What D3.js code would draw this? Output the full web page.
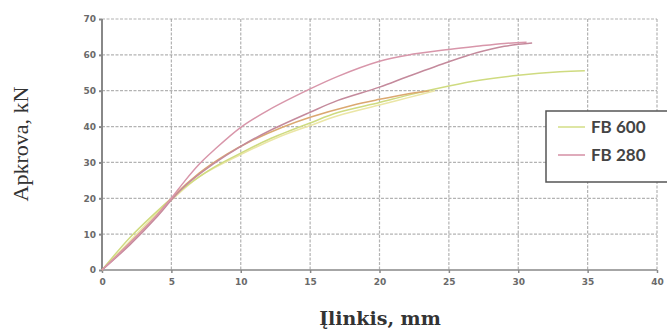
<!DOCTYPE html>
<html>
<head>
<meta charset="utf-8">
<script src="https://cdn.jsdelivr.net/npm/d3@7"></script>
<style>
  body { margin: 0; background: #fff; }
  .tick text { font-family: "DejaVu Sans", Verdana, sans-serif; font-size: 9px; fill: #6a6a6a; font-weight: bold; }
</style>
</head>
<body>
<div id="chart"></div>
<script>
// deflection (mm), load (kN)
var fb280a = [[0,0],[2,7.5],[4,15.5],[5,20],[6,25],[7,29.5],[8,33.2],[10,39.8],[12,44.6],[15,50.5],[17,54],[20,58.2],[22,59.9],[25,61.5],[27,62.4],[29,63.2],[30.6,63.5]];
var fb280b = [[0,0],[2,7],[4,15],[5,19.5],[6,23.5],[8,29.5],[10,34.5],[12,38.7],[15,44],[17,47.3],[20,51],[22,53.9],[25,58.1],[27,60.6],[29,62.4],[31,63.3]];
var fb600a = [[0,0],[2,9],[4,16.5],[5,20],[6,23.2],[8,28.5],[10,32.6],[12,36.4],[15,41],[17,43.9],[20,46.7],[22,48.7],[25,51.3],[27.2,52.9],[30,54.3],[33,55.3],[34.8,55.6]];
var fb600b = [[0,0],[2,8],[4,16],[5,19.5],[7,26],[10,32.2],[13,37.5],[15,40.3],[17,43],[20,46],[22,48],[24,50]];
var fb600c = [[0,0],[2,7.5],[4,15.5],[5,20],[7,27],[9,32.3],[10.6,35.7],[13,39.8],[15,42.6],[18,45.9],[20,47.6],[22,49.1],[23.6,50]];

var xTicks = [0, 5, 10, 15, 20, 25, 30, 35, 40];
var yTicks = [0, 10, 20, 30, 40, 50, 60, 70];
var legendNames = ["FB 600", "FB 280"];
var legendColors = ["#d6e08e", "#d896aa"];

var svgWidth = 667, svgHeight = 334;
var margin = { left: 102, right: 10, top: 19, bottom: 64 };
var width = 657 - margin.left,
    height = 270 - margin.top;

var svg = d3.select("#chart").append("svg")
  .attr("width", svgWidth)
  .attr("height", svgHeight);

var g = svg.append("g")
  .attr("transform", `translate(${margin.left}, ${margin.top})`);

var x = d3.scaleLinear().domain([0, 40]).range([0, width]);
var y = d3.scaleLinear().domain([0, 70]).range([height, 0]);

// grid
g.append("g")
  .selectAll("line.vg")
  .data(xTicks.slice(1))
  .enter().append("line")
  .attr("x1", d => x(d)).attr("x2", d => x(d))
  .attr("y1", 0).attr("y2", height)
  .attr("stroke", "#9a9a9a").attr("stroke-width", 1.2)
  .attr("stroke-dasharray", "3,1.5").attr("opacity", 0.75);

g.append("g")
  .selectAll("line.hg")
  .data(yTicks.slice(1))
  .enter().append("line")
  .attr("x1", 0).attr("x2", width)
  .attr("y1", d => y(d)).attr("y2", d => y(d))
  .attr("stroke", "#9a9a9a").attr("stroke-width", 1.2)
  .attr("stroke-dasharray", "3,1.5").attr("opacity", 0.75);

// axes
var xAxis = g.append("g")
  .attr("transform", `translate(0, ${height})`)
  .call(d3.axisBottom(x).tickValues(xTicks).tickSize(3).tickPadding(6));
var yAxis = g.append("g")
  .call(d3.axisLeft(y).tickValues(yTicks).tickSize(3).tickPadding(3));
xAxis.selectAll("path, line").attr("stroke", "#888").attr("stroke-width", 1.5);
yAxis.selectAll("path, line").attr("stroke", "#888").attr("stroke-width", 2);
xAxis.select("path").attr("d", `M0,0H${width}`);
yAxis.select("path").attr("d", `M0,${height}V0`);

// curves
var line = d3.line()
  .x(d => x(d[0]))
  .y(d => y(d[1]))
  .curve(d3.curveCatmullRom.alpha(0.5));

var curves = [
  { data: fb600b, color: "#ebe6a6" },
  { data: fb600a, color: "#cfdb80" },
  { data: fb600c, color: "#dba870" },
  { data: fb280b, color: "#c48a9c" },
  { data: fb280a, color: "#d896aa" }
];

g.selectAll("path.curve")
  .data(curves)
  .enter().append("path")
  .attr("class", "curve")
  .attr("d", d => line(d.data))
  .attr("fill", "none")
  .attr("stroke", d => d.color)
  .attr("stroke-width", 1.5);

// legend
var legend = svg.append("g").attr("transform", "translate(546, 111)");
legend.append("rect")
  .attr("width", 122).attr("height", 71)
  .attr("fill", "#fff")
  .attr("stroke", "#555").attr("stroke-width", 1.5);
legendNames.forEach(function(name, i) {
  legend.append("line")
    .attr("x1", 12).attr("x2", 39)
    .attr("y1", 16 + i * 28).attr("y2", 16 + i * 28)
    .attr("stroke", legendColors[i]).attr("stroke-width", 1.6);
  legend.append("text")
    .attr("x", 45).attr("y", 22 + i * 28)
    .attr("font-family", "Lato, 'Open Sans', sans-serif")
    .attr("font-size", "17px")
    .attr("font-weight", "bold")
    .attr("fill", "#444")
    .text(name);
});

// axis labels
svg.append("text")
  .attr("transform", "translate(28, 144) rotate(-90)")
  .attr("text-anchor", "middle")
  .attr("font-family", "'Liberation Serif', 'DejaVu Serif', serif")
  .attr("font-size", "22px")
  .attr("fill", "#333")
  .text("Apkrova, kN");

svg.append("text")
  .attr("x", 380).attr("y", 325)
  .attr("text-anchor", "middle")
  .attr("font-family", "'DejaVu Serif', 'Liberation Serif', serif")
  .attr("font-size", "19px")
  .attr("font-weight", "bold")
  .attr("fill", "#333")
  .text("Įlinkis, mm");
</script>
</body>
</html>
